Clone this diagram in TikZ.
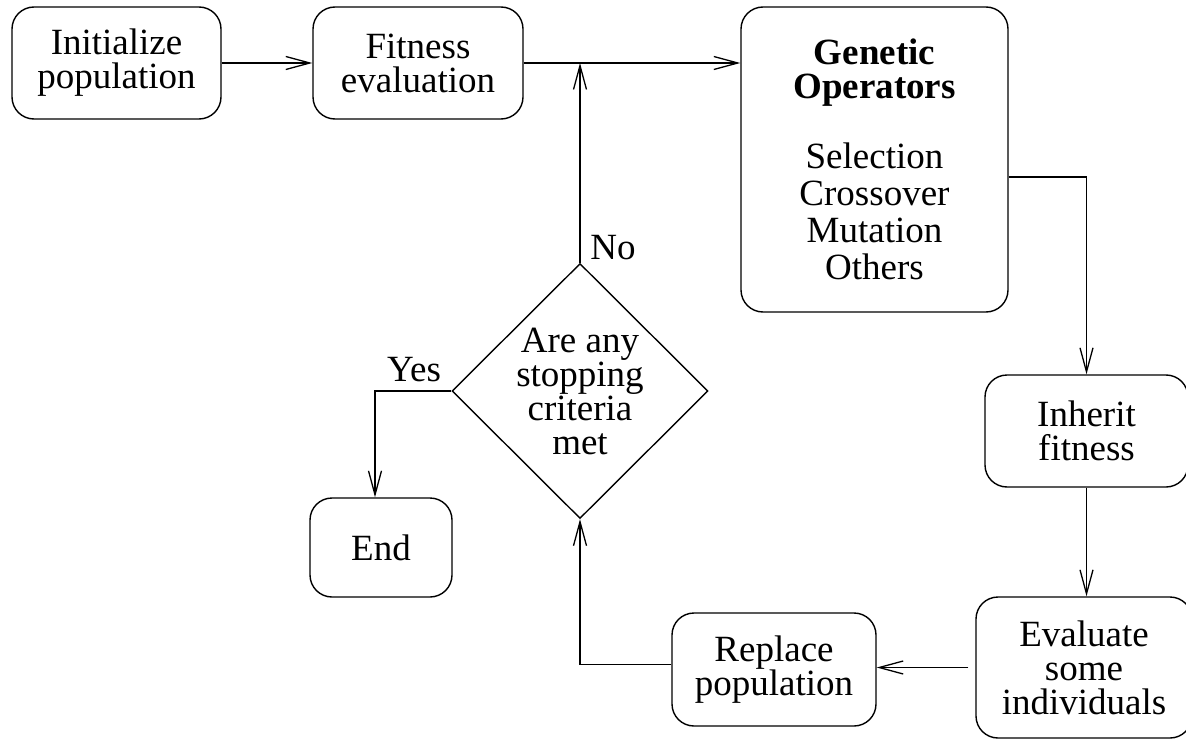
\documentclass[tikz,border=0pt]{standalone}
\usepackage{fontspec}
\setmainfont{Liberation Serif}
\usetikzlibrary{arrows.meta,shapes.geometric}
\begin{document}
\begin{tikzpicture}[x=1pt,y=-1pt,
  box/.style={draw, line width=1.4pt, rounded corners=22pt, inner sep=0pt, align=center, font=\fontsize{37}{34}\selectfont},
  dec/.style={draw, diamond, line width=1.4pt, inner sep=0pt, minimum width=256pt, minimum height=255pt, align=center, font=\fontsize{37}{34}\selectfont},
  conn/.style={line width=1.3pt, -{Straight Barb[length=24pt,width=13pt,line width=1.3pt]}},
  lbl/.style={font=\fontsize{37}{34}\selectfont, inner sep=0pt}]
\fill[white] (0,0) rectangle (1186,741);
\useasboundingbox (0,0) rectangle (1186,741);
\node[box, minimum width=209pt, minimum height=112pt] (init) at (116.5,63) {Initialize\\population};
\node[box, minimum width=210pt, minimum height=112pt] (fit) at (418,63) {Fitness\\evaluation};
\node[box, minimum width=267pt, minimum height=305pt] (gen) at (874.5,159.5) {\textbf{Genetic}\\\textbf{Operators}\\[36pt]Selection\\[3pt]Crossover\\[3pt]Mutation\\[3pt]Others};
\node[box, minimum width=203pt, minimum height=112pt] (inh) at (1086.5,431) {Inherit\\fitness};
\node[box, minimum width=216pt, minimum height=141pt] (eva) at (1084,667.5) {Evaluate\\some\\individuals};
\node[box, minimum width=204pt, minimum height=113pt] (rep) at (774,669.5) {Replace\\population};
\node[box, minimum width=142pt, minimum height=99pt] (end) at (381,547.5) {End};
\node[dec] (dia) at (580,391) {Are any\\stopping\\criteria\\met};
\node[lbl] (no) at (613,248) {No};
\node[lbl] (yes) at (414,370) {Yes};
\draw[conn] (init.east) -- (fit.west);
\draw[conn] (fit.east) -- (gen.west |- fit.east);
\draw[conn] (dia.north) -- (dia.north |- fit.east);
\draw[conn] ([yshift=-17.5pt]gen.east) -| (inh.north);
\draw[conn] (inh.south) -- (inh.south |- eva.north);
\draw[conn, shorten <=7pt] (eva.west) -- (rep.east |- eva.west);
\draw[conn] ([yshift=5pt]rep.west) -| (dia.south);
\draw[conn] (dia.west) -| ([xshift=-6pt]end.north);
\end{tikzpicture}
\end{document}
